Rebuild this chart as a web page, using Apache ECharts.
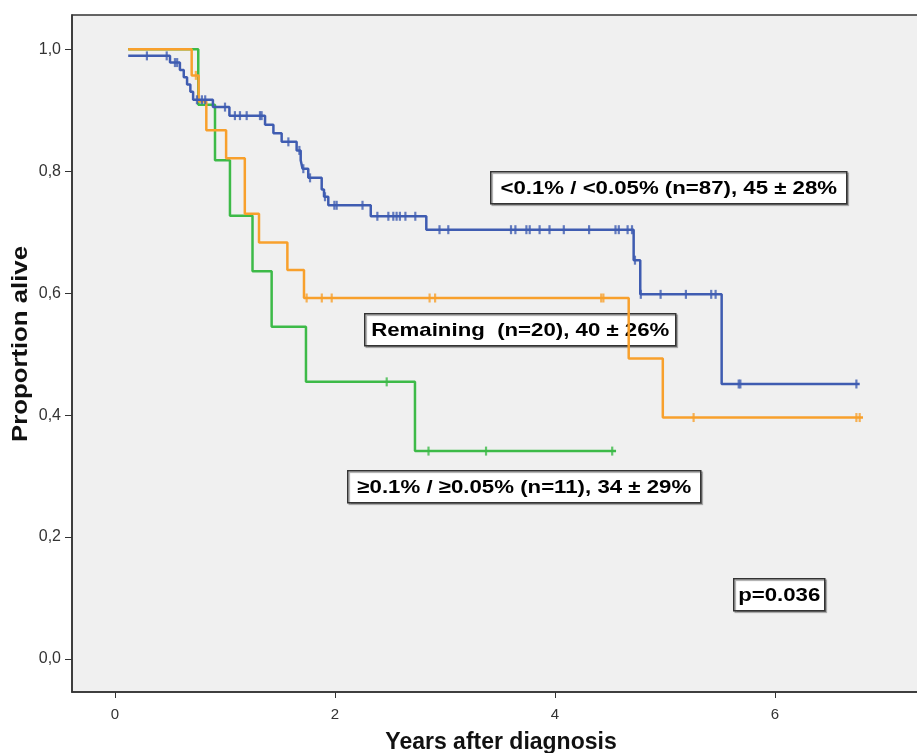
<!DOCTYPE html>
<html>
<head>
<meta charset="utf-8">
<script src="https://cdn.jsdelivr.net/npm/echarts@6/dist/echarts.min.js"></script>
<style>
  html, body { margin: 0; padding: 0; background: #fff; }
  #chart { width: 917px; height: 753px; }
</style>
</head>
<body>
<div id="chart"></div>
<script>
// step points [years, survival] -- value holds from that time until the next point
const lowMrdCurve = [
  [0.12, 0.989], [0.50, 0.978], [0.59, 0.966], [0.625, 0.954], [0.655, 0.942],
  [0.685, 0.93], [0.71, 0.917], [0.89, 0.905], [1.04, 0.891], [1.364, 0.876],
  [1.44, 0.862], [1.515, 0.848], [1.651, 0.834], [1.688, 0.818], [1.705, 0.804],
  [1.757, 0.789], [1.879, 0.77], [1.90, 0.758], [1.939, 0.744], [2.325, 0.726],
  [2.83, 0.704], [4.715, 0.654], [4.775, 0.598], [5.515, 0.451], [6.77, 0.451]
];
const lowMrdCensored = [
  0.29, 0.47, 0.545, 0.565, 0.745, 0.79, 0.82, 1.0, 1.09, 1.136, 1.197, 1.318, 1.333,
  1.576, 1.676, 1.712, 1.773, 1.909, 1.994, 2.015, 2.25, 2.385, 2.485, 2.53, 2.56,
  2.59, 2.64, 2.73, 2.95, 3.03, 3.6, 3.64, 3.74, 3.77, 3.86, 3.95, 4.08, 4.31, 4.55,
  4.58, 4.66, 4.70, 4.727, 4.78, 4.96, 5.19, 5.42, 5.46, 5.67, 5.685, 6.74
];

const remainingCurve = [
  [0.12, 1.0], [0.697, 0.957], [0.76, 0.914], [0.83, 0.867], [1.01, 0.821],
  [1.18, 0.73], [1.309, 0.683], [1.567, 0.638], [1.718, 0.592], [4.67, 0.493],
  [4.98, 0.396], [6.80, 0.396]
];
const remainingCensored = [0.735, 1.742, 1.88, 1.97, 2.86, 2.91, 4.42, 4.44, 5.26, 6.74, 6.77];

const highMrdCurve = [
  [0.12, 1.0], [0.757, 0.909], [0.909, 0.818], [1.045, 0.727], [1.25, 0.636],
  [1.424, 0.545], [1.736, 0.4545], [2.727, 0.341], [4.555, 0.341]
];
const highMrdCensored = [2.47, 2.85, 3.373, 4.52];

const yTicks = [0, 0.2, 0.4, 0.6, 0.8, 1.0];
const xTicks = [0, 2, 4, 6];

const groupLabels = [
  '<0.1% / <0.05% (n=87), 45 \u00b1 28%',
  'Remaining  (n=20), 40 \u00b1 26%',
  '\u22650.1% / \u22650.05% (n=11), 34 \u00b1 29%',
  'p=0.036'
];
const xTitle = 'Years after diagnosis';
const yTitle = 'Proportion alive';

const colors = { low: '#3f5cb1', rem: '#f8a02c', high: '#3dba48' };

// survival value at time t
function survivalAt(curve, t) {
  let v = curve[0][1];
  for (const [ti, vi] of curve) {
    if (ti <= t) v = vi;
  }
  return v;
}
function censorPoints(curve, times) {
  return times.map(t => [t, survivalAt(curve, t)]);
}

function curveSeries(name, data, color, z) {
  return {
    name: name,
    type: 'line',
    step: 'end',
    data: data,
    showSymbol: false,
    silent: true,
    z: z,
    lineStyle: { color: color, width: 2.5 }
  };
}
function censorSeries(name, data, color, z) {
  return {
    name: name,
    type: 'scatter',
    data: data,
    symbol: 'rect',
    symbolSize: [2.2, 9],
    silent: true,
    z: z,
    itemStyle: { color: color }
  };
}

const fam = '"Liberation Sans", Arial, sans-serif';
const boxFont = 'bold 19px ' + fam;

function labelBox(text, x, y, w, h) {
  return {
    type: 'group',
    left: x,
    top: y,
    children: [
      {
        type: 'rect',
        shape: { x: 0, y: 0, width: w, height: h },
        style: {
          fill: '#fff', stroke: '#333', lineWidth: 1.5,
          shadowColor: 'rgba(0,0,0,0.35)', shadowOffsetX: 1.5, shadowOffsetY: 1.5, shadowBlur: 1
        }
      },
      {
        type: 'text',
        x: w / 2,
        y: h / 2 + 1,
        scaleX: 1.17,
        style: {
          text: text, font: boxFont, fill: '#000',
          align: 'center', verticalAlign: 'middle'
        }
      }
    ]
  };
}

const chart = echarts.init(document.getElementById('chart'));
chart.setOption({
  animation: false,
  backgroundColor: '#fff',
  grid: {
    left: 72, width: 857, top: 15, height: 677,
    outerBoundsMode: 'none',
    containLabel: false,
    show: true, backgroundColor: '#f0f0f0',
    borderColor: '#333', borderWidth: 1.5
  },
  xAxis: {
    type: 'value',
    min: -0.391, max: 7.4,
    splitLine: { show: false },
    axisLine: { show: true, onZero: false, lineStyle: { color: '#333', width: 1.5 } },
    axisTick: { show: true, length: 6, lineStyle: { color: '#333' }, customValues: xTicks },
    axisLabel: {
      customValues: xTicks, margin: 15, color: '#333',
      fontFamily: fam, fontSize: 15
    }
  },
  yAxis: {
    type: 'value',
    min: -0.054, max: 1.056,
    splitLine: { show: false },
    axisLine: { show: true, onZero: false, lineStyle: { color: '#333', width: 1.5 } },
    axisTick: { show: true, length: 7, lineStyle: { color: '#333' }, customValues: yTicks },
    axisLabel: {
      customValues: yTicks, margin: 11, color: '#333',
      fontFamily: fam, fontSize: 16,
      formatter: v => v.toFixed(1).replace('.', ',')
    }
  },
  series: [
    curveSeries('high', highMrdCurve, colors.high, 2),
    censorSeries('highCens', censorPoints(highMrdCurve, highMrdCensored), colors.high, 2),
    curveSeries('remaining', remainingCurve, colors.rem, 3),
    censorSeries('remCens', censorPoints(remainingCurve, remainingCensored), colors.rem, 3),
    curveSeries('low', lowMrdCurve, colors.low, 4),
    censorSeries('lowCens', censorPoints(lowMrdCurve, lowMrdCensored), colors.low, 4)
  ],
  graphic: [
    labelBox(groupLabels[0], 490, 171, 356, 32),
    labelBox(groupLabels[1], 364, 313, 311, 32),
    labelBox(groupLabels[2], 347, 470, 353, 32),
    labelBox(groupLabels[3], 733, 578, 91, 32),
    {
      type: 'text', x: 501, y: 743,
      style: { text: xTitle, font: 'bold 23px ' + fam, fill: '#111', align: 'center', verticalAlign: 'middle' }
    },
    {
      type: 'text', x: 21, y: 344, rotation: Math.PI / 2, scaleX: 1.17,
      style: { text: yTitle, font: 'bold 22px ' + fam, fill: '#111', align: 'center', verticalAlign: 'middle' }
    }
  ]
});
</script>
</body>
</html>
